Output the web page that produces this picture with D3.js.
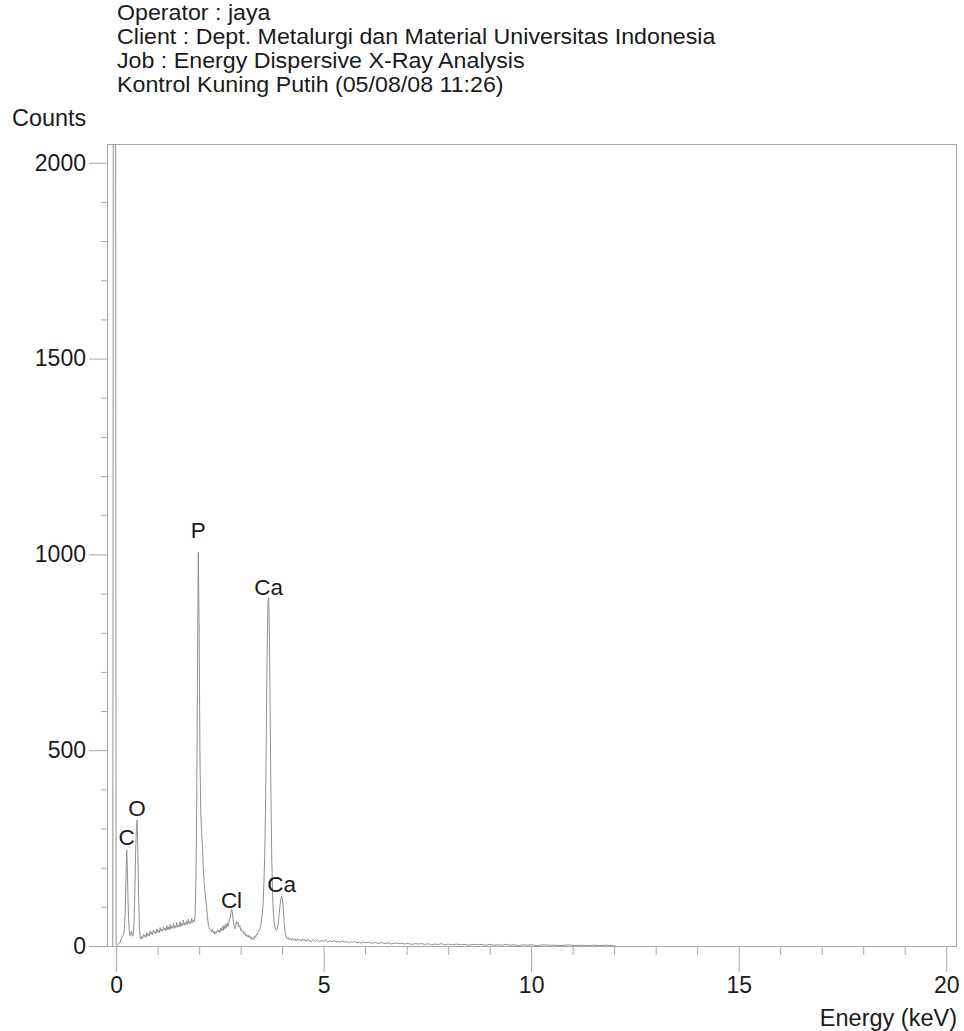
<!DOCTYPE html>
<html>
<head>
<meta charset="utf-8">
<script src="https://cdn.jsdelivr.net/npm/d3@7"></script>
<style>
  html, body { margin: 0; padding: 0; background: #fff; }
  svg { display: block; font-family: "Liberation Sans", Arial, sans-serif; }
</style>
</head>
<body>
<svg id="chart" width="964" height="1031"></svg>
<script>
// Header lines printed above the spectrum
const headerLines = [
  "Operator : jaya",
  "Client : Dept. Metalurgi dan Material Universitas Indonesia",
  "Job : Energy Dispersive X-Ray Analysis",
  "Kontrol Kuning Putih (05/08/08 11:26)"
];

// Axis ticks
const xMajorTicks = [0, 5, 10, 15, 20];
const xMinorTicks = [1, 2, 3, 4, 6, 7, 8, 9, 11, 12, 13, 14, 16, 17, 18, 19];
const yMajorTicks = [0, 500, 1000, 1500, 2000];
const yMinorTicks = [100, 200, 300, 400, 600, 700, 800, 900, 1100, 1200, 1300, 1400, 1600, 1700, 1800, 1900];

// Identified element peaks: label, energy (keV), peak counts, label lift (px)
const peakLabels = [
  { el: "C",  keV: 0.255, counts: 245,  lift: 5 },
  { el: "O",  keV: 0.505, counts: 322,  lift: 4 },
  { el: "P",  keV: 1.98,  counts: 1005, lift: 14 },
  { el: "Cl", keV: 2.78,  counts: 93,   lift: 2 },
  { el: "Ca", keV: 3.675, counts: 889,  lift: 3 },
  { el: "Ca", keV: 3.99,  counts: 127,  lift: 4 }
];

// Zero-energy noise peak (runs off the top of the scale)
const noisePeak = [
  [-0.10, 0], [-0.08, 0], [-0.065, 2600], [-0.015, 2600], [0.0, 3]
];

// Measured spectrum: [energy keV, counts]
const spectrum = [
  [0.00, 3], [0.03, 2], [0.06, 5], [0.09, 9], [0.12, 16], [0.15, 24], [0.18, 30],
  [0.20, 42], [0.22, 90], [0.24, 185], [0.255, 245], [0.27, 200], [0.29, 105],
  [0.31, 48], [0.33, 26], [0.35, 32], [0.37, 38], [0.39, 25], [0.41, 28],
  [0.43, 55], [0.45, 130], [0.47, 240], [0.49, 305], [0.505, 322], [0.52, 260],
  [0.54, 140], [0.56, 52], [0.58, 22], [0.60, 17], [0.62, 24],
  [0.64, 20], [0.66, 30], [0.68, 24], [0.70, 28], [0.72, 22], [0.74, 34],
  [0.76, 27], [0.78, 31], [0.80, 26], [0.82, 38], [0.84, 30], [0.86, 35],
  [0.88, 29], [0.90, 41], [0.92, 33], [0.94, 37], [0.96, 31], [0.98, 44],
  [1.00, 36], [1.02, 40], [1.04, 34], [1.06, 47], [1.08, 38], [1.10, 43],
  [1.12, 37], [1.14, 49], [1.16, 41], [1.18, 45], [1.20, 39], [1.22, 52],
  [1.24, 42], [1.26, 48], [1.28, 41], [1.30, 55], [1.32, 44], [1.34, 50],
  [1.36, 46], [1.38, 57], [1.40, 45], [1.42, 52], [1.44, 47], [1.46, 60],
  [1.48, 48], [1.50, 54], [1.52, 49], [1.54, 62], [1.56, 50], [1.58, 57],
  [1.60, 52], [1.62, 66], [1.64, 53], [1.66, 59], [1.68, 54], [1.70, 64],
  [1.72, 56], [1.74, 68], [1.76, 57], [1.78, 63], [1.80, 58], [1.82, 70],
  [1.84, 60], [1.86, 66], [1.88, 62], [1.90, 72],
  [1.92, 150], [1.94, 330], [1.96, 700], [1.98, 1005], [2.00, 800], [2.02, 480],
  [2.04, 340], [2.06, 290], [2.08, 253], [2.10, 200], [2.12, 165], [2.14, 140],
  [2.16, 120], [2.18, 100], [2.20, 75], [2.22, 56], [2.24, 48], [2.26, 42],
  [2.28, 40], [2.30, 36], [2.32, 44], [2.34, 34], [2.36, 38], [2.38, 30],
  [2.40, 36], [2.42, 33], [2.44, 42], [2.46, 36], [2.48, 40], [2.50, 34],
  [2.52, 46], [2.54, 38], [2.56, 50], [2.58, 40], [2.60, 52], [2.62, 44],
  [2.64, 56], [2.66, 46], [2.68, 58], [2.70, 50], [2.72, 62], [2.74, 70],
  [2.76, 82], [2.78, 93], [2.80, 86], [2.82, 66], [2.84, 52], [2.86, 44],
  [2.88, 50], [2.90, 62], [2.92, 56], [2.94, 60], [2.96, 48], [2.98, 52],
  [3.00, 40], [3.02, 44], [3.04, 36], [3.06, 38], [3.08, 30], [3.10, 34],
  [3.12, 26], [3.14, 30], [3.16, 24], [3.18, 28], [3.20, 22], [3.22, 26],
  [3.24, 18], [3.26, 22], [3.28, 16], [3.30, 20], [3.32, 17], [3.34, 26],
  [3.36, 22], [3.38, 30], [3.40, 28], [3.42, 36], [3.44, 40], [3.46, 42],
  [3.48, 50], [3.50, 64], [3.52, 80], [3.54, 105], [3.56, 160], [3.58, 230],
  [3.60, 360], [3.62, 560], [3.64, 760], [3.66, 880], [3.675, 889], [3.69, 820],
  [3.71, 620], [3.73, 380], [3.75, 220], [3.77, 130], [3.79, 80], [3.81, 58],
  [3.83, 48], [3.85, 42], [3.87, 40], [3.89, 46], [3.91, 62], [3.93, 85],
  [3.95, 105], [3.97, 120], [3.99, 127], [4.01, 118], [4.03, 90], [4.05, 58],
  [4.07, 36], [4.09, 26], [4.11, 20], [4.13, 18], [4.15, 22], [4.17, 16],
  [4.19, 19], [4.22, 15], [4.25, 20], [4.28, 14], [4.31, 18], [4.34, 13],
  [4.37, 19], [4.40, 15], [4.43, 17], [4.46, 12], [4.49, 18], [4.52, 14],
  [4.55, 16], [4.58, 12], [4.61, 17], [4.64, 13], [4.67, 15], [4.70, 11],
  [4.75, 16], [4.80, 12], [4.85, 15], [4.90, 11], [4.95, 14], [5.00, 12],
  [5.05, 15], [5.10, 10], [5.15, 13], [5.20, 11], [5.25, 14], [5.30, 10],
  [5.35, 12], [5.40, 9], [5.45, 13], [5.50, 10], [5.55, 12], [5.60, 8],
  [5.65, 11], [5.70, 9], [5.75, 12], [5.80, 8], [5.85, 10], [5.90, 7],
  [5.95, 10], [6.00, 8], [6.08, 10], [6.16, 7], [6.24, 9], [6.32, 6],
  [6.40, 9], [6.48, 6], [6.56, 8], [6.64, 5], [6.72, 8], [6.80, 6],
  [6.88, 7], [6.96, 5], [7.04, 7], [7.12, 4], [7.20, 6], [7.28, 5],
  [7.36, 6], [7.44, 4], [7.52, 6], [7.60, 3], [7.68, 5], [7.76, 4],
  [7.84, 6], [7.92, 3], [8.00, 5], [8.10, 3], [8.20, 5], [8.30, 3],
  [8.40, 4], [8.50, 2], [8.60, 4], [8.70, 3], [8.80, 4], [8.90, 2],
  [9.00, 4], [9.10, 2], [9.20, 3], [9.30, 2], [9.40, 4], [9.50, 2],
  [9.60, 3], [9.70, 1], [9.80, 3], [9.90, 2], [10.00, 3], [10.15, 1],
  [10.30, 3], [10.45, 2], [10.60, 2], [10.75, 1], [10.90, 3], [11.05, 1],
  [11.20, 2], [11.35, 1], [11.50, 2], [11.65, 1], [11.80, 2], [11.95, 1],
  [12.05, 0]
];

const svg = d3.select("#chart");

// Plot frame edges
const frameLeft = 107, frameRight = 957, frameTop = 144, frameBottom = 946;

const x = d3.scaleLinear().domain([-0.22, 20.26]).range([frameLeft, frameRight]);
const y = d3.scaleLinear().domain([0, 2048]).range([frameBottom, frameTop]);

const axisColor = "#a8a8a8";
const textColor = "#1a1a1a";
const fontSize = 23;

// Header block: slightly wide lettering on a tight line pitch
svg.append("g")
  .attr("transform", "translate(117,0) scale(1.085,1)")
  .selectAll("text")
  .data(headerLines)
  .join("text")
  .attr("x", 0)
  .attr("y", (d, i) => 20.5 + i * 24)
  .attr("font-size", 21.4)
  .attr("fill", textColor)
  .text(d => d);

svg.append("text")
  .attr("x", 12).attr("y", 126)
  .attr("font-size", 23.4)
  .attr("fill", textColor)
  .text("Counts");

// Frame (top and right edges)
svg.append("path")
  .attr("d", `M${frameLeft},${frameTop + 0.5}H${frameRight - 0.5}V${frameBottom}`)
  .attr("fill", "none")
  .attr("stroke", axisColor)
  .attr("stroke-width", 1);

// Y axis: minor and major ticks
const yMinor = svg.append("g")
  .attr("transform", `translate(${frameLeft},0)`)
  .call(d3.axisLeft(y).tickValues(yMinorTicks).tickSize(6).tickFormat(""));
const yMajor = svg.append("g")
  .attr("transform", `translate(${frameLeft},0)`)
  .call(d3.axisLeft(y).tickValues(yMajorTicks).tickSize(18).tickPadding(3).tickFormat(d3.format("d")));

// X axis: minor and major ticks
const xMinor = svg.append("g")
  .attr("transform", `translate(0,${frameBottom})`)
  .call(d3.axisBottom(x).tickValues(xMinorTicks).tickSize(9).tickFormat(""));
const xMajor = svg.append("g")
  .attr("transform", `translate(0,${frameBottom})`)
  .call(d3.axisBottom(x).tickValues(xMajorTicks).tickSize(26).tickPadding(5).tickFormat(d3.format("d")));

[yMinor, yMajor, xMinor, xMajor].forEach(g => {
  g.select(".domain").attr("stroke", axisColor).attr("stroke-width", 1);
  g.selectAll(".tick line").attr("stroke", axisColor).attr("stroke-width", 1);
  g.selectAll(".tick text")
    .attr("font-size", fontSize)
    .attr("font-family", "'Liberation Sans', Arial, sans-serif")
    .attr("fill", textColor);
});
xMinor.select(".domain").attr("d", `M${frameLeft},0.5H${frameRight}`);
xMajor.select(".domain").attr("d", `M${frameLeft},0.5H${frameRight}`);
yMinor.select(".domain").attr("d", `M0.5,${frameTop}V${frameBottom}`);
yMajor.select(".domain").attr("d", `M0.5,${frameTop}V${frameBottom}`);

svg.append("text")
  .attr("x", frameRight).attr("y", 1026)
  .attr("text-anchor", "end")
  .attr("font-size", 23.5)
  .attr("fill", textColor)
  .text("Energy (keV)");

// Spectrum trace, clipped to the plot frame
svg.append("clipPath").attr("id", "plotClip")
  .append("rect")
  .attr("x", frameLeft).attr("y", frameTop)
  .attr("width", frameRight - frameLeft).attr("height", frameBottom - frameTop);

const line = d3.line().x(d => x(d[0])).y(d => y(d[1]));

const trace = svg.append("g").attr("clip-path", "url(#plotClip)");
trace.append("path")
  .datum(noisePeak)
  .attr("d", line)
  .attr("fill", "none")
  .attr("stroke", "#909090")
  .attr("stroke-width", 1);
trace.append("path")
  .datum(spectrum)
  .attr("d", line)
  .attr("fill", "none")
  .attr("stroke", "#909090")
  .attr("stroke-width", 1)
  .attr("stroke-linejoin", "round");

// Element labels above their peaks
svg.append("g")
  .selectAll("text")
  .data(peakLabels)
  .join("text")
  .attr("x", d => x(d.keV))
  .attr("y", d => y(d.counts) - d.lift)
  .attr("text-anchor", "middle")
  .attr("font-size", 22.5)
  .attr("fill", textColor)
  .text(d => d.el);
</script>
</body>
</html>
